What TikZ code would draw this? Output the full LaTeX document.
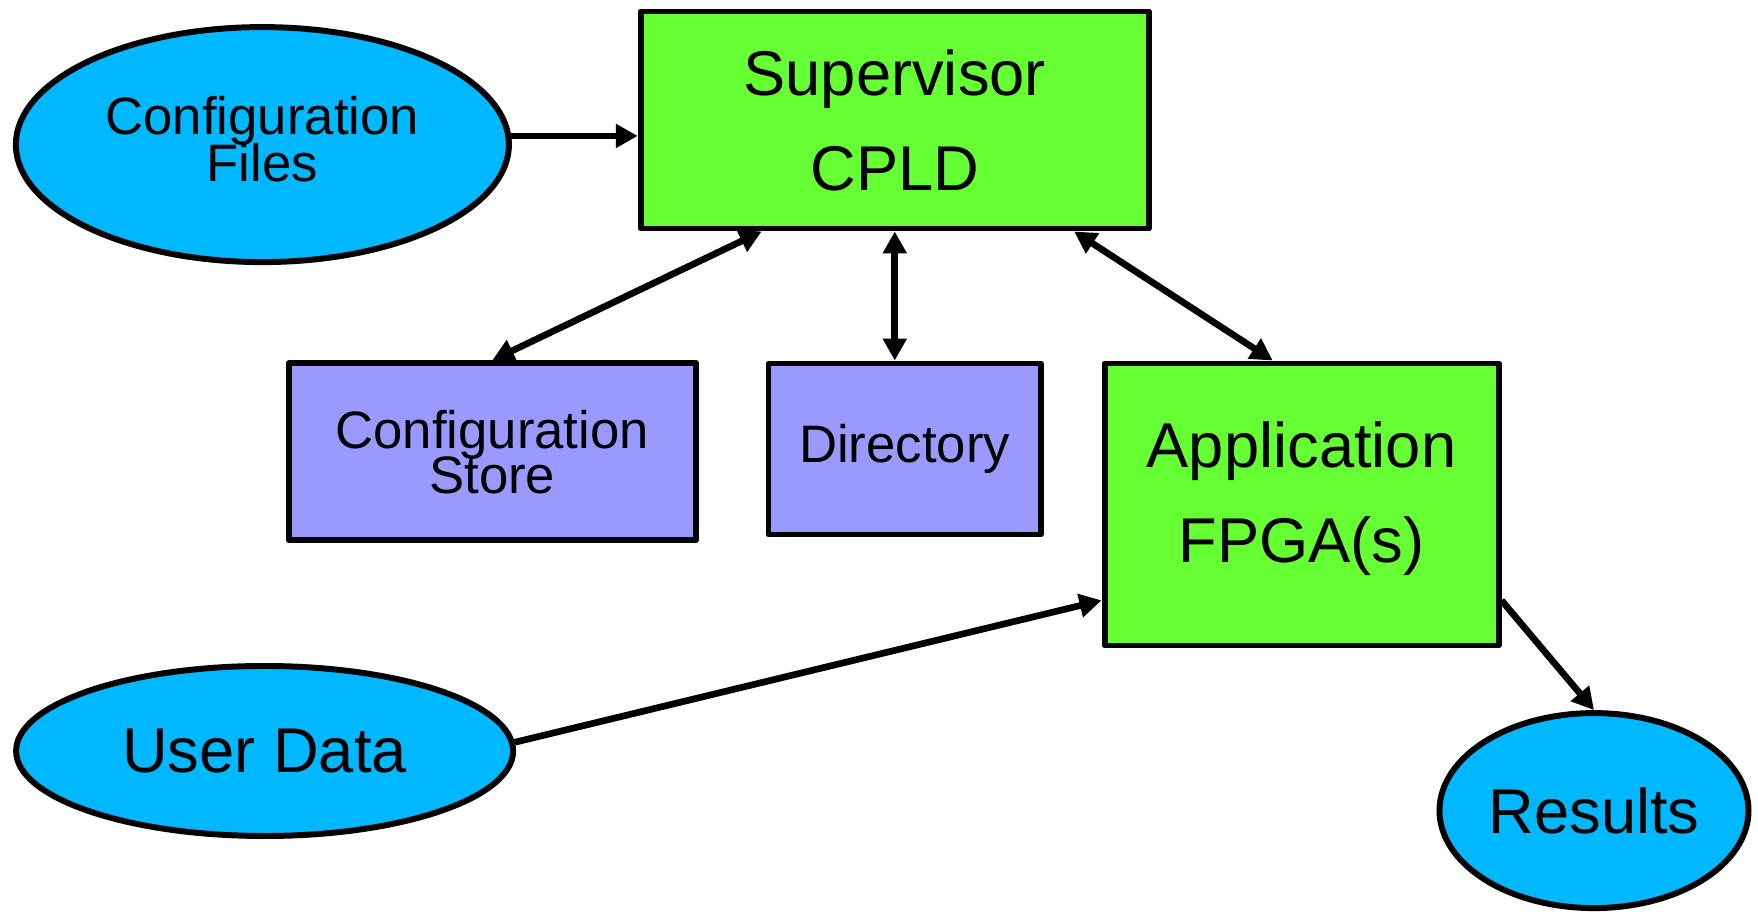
\documentclass[tikz,border=0pt]{standalone}
\usepackage{fontspec}
\setmainfont{Liberation Sans}
\usepackage{tikz}
\usetikzlibrary{calc,shapes.geometric,arrows.meta}
\tikzset{>={Triangle[length=2.2mm,width=2.3mm]}}
\definecolor{skyblue}{RGB}{0,184,255}
\definecolor{limegreen}{RGB}{102,255,51}
\definecolor{lavender}{RGB}{153,153,255}
\newcommand{\tightlines}{\lineskiplimit=-20pt\relax}

\begin{document}
\begin{tikzpicture}[line join=round,
  io/.style={ellipse,draw,line width=1.7pt,fill=skyblue,inner sep=0pt,align=center},
  chip/.style={rectangle,draw,line width=1.7pt,fill=limegreen,inner sep=0pt,align=center,font=\fontsize{18}{27}\selectfont},
  mem/.style={rectangle,draw,line width=1.7pt,fill=lavender,inner sep=0pt,align=center,font=\fontsize{15}{12.8}\selectfont\tightlines},
  link/.style={line width=1.9pt}]
\useasboundingbox (0,0) rectangle (17.58,9.18);
    % inputs and outputs
    \node[io,minimum width=4.93cm,minimum height=2.35cm,text depth=3.2pt,font=\fontsize{15}{13.3}\selectfont\tightlines] (cfgfiles) at (2.624,7.734) {Configuration\\Files};
    \node[io,minimum width=4.97cm,minimum height=1.70cm,font=\fontsize{18}{22}\selectfont] (udata) at (2.646,1.67) {User Data};
    \node[io,minimum width=3.09cm,minimum height=1.95cm,font=\fontsize{18}{22}\selectfont] (results) at (15.94,1.074) {Results};
    % devices
    \node[chip,minimum width=5.08cm,minimum height=2.17cm] (sup) at (8.9475,7.98) {Supervisor\\CPLD};
    \node[chip,minimum width=3.94cm,minimum height=2.82cm,text depth=7.2pt] (app) at (13.015,4.135) {Application\\FPGA(s)};
    \node[mem,minimum width=4.07cm,minimum height=1.77cm] (store) at (4.9225,4.662) {Configuration\\Store};
    \node[mem,minimum width=2.72cm,minimum height=1.71cm] (dir) at (9.045,4.69) {Directory};
    % connection points
    \coordinate (supL) at ($(sup.south west)!0.241!(sup.south east)$);
    \coordinate (supR) at ($(sup.south west)!0.849!(sup.south east)$);
    \coordinate (appT) at ($(app.north west)!0.428!(app.north east)$);
    \coordinate (appW) at ($(app.south west)!0.167!(app.north west)$);
    \coordinate (appE) at ($(app.south east)!0.167!(app.north east)$);
    % arrows
    \draw[link,->] (cfgfiles.2) -- (cfgfiles.2 -| sup.west);
    \draw[link,<->] (supL) -- (store.north);
    \draw[link,<->] (sup.south) -- (sup.south |- dir.north);
    \draw[link,<->] (supR) -- (appT);
    \draw[link,->] (udata.2) -- (appW);
    \draw[link,->] (appE) -- (results.north);
    \end{tikzpicture}
\end{document}
